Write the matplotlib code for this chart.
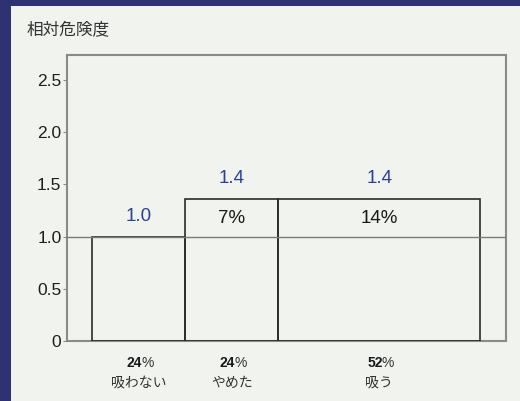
import matplotlib
matplotlib.use('Agg')
import matplotlib.pyplot as plt
from matplotlib.patches import Rectangle
from matplotlib.ticker import FuncFormatter

plt.rcParams['font.family'] = ['Liberation Sans', 'Noto Sans CJK JP']

# population share (%) sets the bar width, relative risk sets the height
groups = ['吸わない', 'やめた', '吸う']
shares = [24, 24, 52]
risk = [1.0, 1.36, 1.36]
inner_labels = ['', '7%', '14%']
yticks = [0, 0.5, 1.0, 1.5, 2.0, 2.5]

panel = '#f1f3ef'
frame = '#2e3273'
blue = '#2b3f9c'

fig = plt.figure(figsize=(5.2, 4.01), dpi=100, facecolor=panel)
# dark frame along the left and top edges
fig.patches.append(Rectangle((0, 0), 11 / 520, 1, transform=fig.transFigure,
                             facecolor=frame, edgecolor='none', zorder=-1))
fig.patches.append(Rectangle((0, 1 - 6 / 401), 1, 6 / 401, transform=fig.transFigure,
                             facecolor=frame, edgecolor='none', zorder=-1))

ax = fig.add_axes([67 / 520, 1 - 341 / 401, 439 / 520, 286 / 401])
ax.set_facecolor(panel)

lefts = [sum(shares[:i]) for i in range(len(shares))]
ax.bar(lefts, risk, width=shares, align='edge', facecolor='none',
       edgecolor='#2a2a2a', linewidth=1.2, zorder=3)
ax.axhline(1.0, color='#7a7a7a', linewidth=1.0, zorder=4)

for x0, w, v, inner in zip(lefts, shares, risk, inner_labels):
    cx = x0 + w / 2
    ax.annotate(f'{v:.1f}', (cx, v), xytext=(0, 14.5), textcoords='offset points',
                ha='center', va='center', color=blue, fontsize=13.5)
    if inner:
        ax.text(cx, (1.0 + v) / 2 - 0.01, inner, ha='center', va='center',
                fontsize=13.5, color='#1a1a1a')
    # group label under the axis: bold share, regular percent sign, name below
    ax.annotate(f'{w}', (cx, 0), xytext=(2.5, -16), textcoords='offset points',
                ha='right', va='center', fontsize=10, fontweight='bold',
                color='#1a1a1a', annotation_clip=False)
    ax.annotate('%', (cx, 0), xytext=(1.8, -16), textcoords='offset points',
                ha='left', va='center', fontsize=10, color='#333333',
                annotation_clip=False)

for x0, w, name in zip(lefts, shares, groups):
    ax.annotate(name, (x0 + w / 2, 0), xytext=(0, -30), textcoords='offset points',
                ha='center', va='center', fontsize=10, color='#333333',
                annotation_clip=False)

ax.set_xlim(-6.45, 106.7)
ax.set_ylim(0, 2.74)
ax.set_xticks([])
ax.set_yticks(yticks)
ax.yaxis.set_major_formatter(FuncFormatter(lambda v, p: '0' if v == 0 else f'{v:.1f}'))
ax.tick_params(axis='y', length=3, width=0.8, color='#888888', pad=1,
               labelsize=12.5, labelcolor='#1e1e1e')
for s in ax.spines.values():
    s.set_color('#8a8a8a')
    s.set_linewidth(1.5)

fig.text(27 / 520, 1 - 29 / 401, '相対危険度', ha='left', va='center',
         fontsize=12, color='#333333')

fig.savefig('out.png', dpi=100, facecolor=fig.get_facecolor())
